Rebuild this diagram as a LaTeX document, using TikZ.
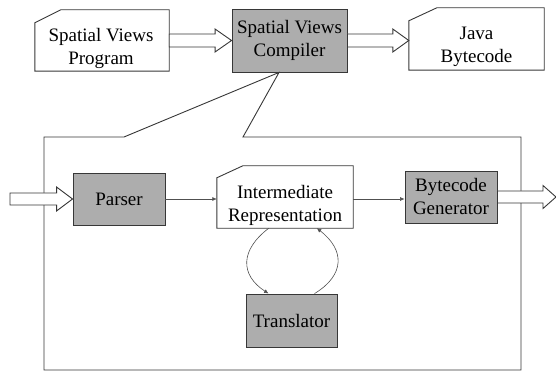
\documentclass[tikz,border=0pt]{standalone}
\usepackage{fontspec}
\setmainfont{Liberation Serif}
\newfontfamily\tnrfont{Liberation Serif}
\usetikzlibrary{arrows.meta,calc}
\definecolor{boxgray}{RGB}{173,173,173}
\definecolor{edgec}{RGB}{55,55,55}
\definecolor{connc}{RGB}{80,80,80}
\begin{document}
\begin{tikzpicture}[x=1pt,y=-1pt,
  txt/.style={font=\tnrfont\fontsize{19}{23}\selectfont, align=center, inner sep=0pt},
  graybox/.style={draw=edgec, fill=boxgray, line width=0.9pt, inner sep=0pt, align=center, font=\tnrfont\fontsize{19}{23}\selectfont},
  cardshape/.style={inner sep=0pt},
  cardline/.style={draw=edgec, fill=white, line width=0.9pt},
  outline/.style={draw=edgec, line width=0.9pt},
  blockarr/.style={draw=edgec, fill=white, line width=0.9pt, line join=miter},
  conn/.style={draw=connc, line width=0.6pt, -{Latex[length=4.5pt,width=4pt]}}
]
\useasboundingbox (0,0) rectangle (556,371);

% top row
\node[cardshape, minimum width=134pt, minimum height=61pt] (prog) at (102,40.5) {};
\node[graybox, minimum width=115pt, minimum height=63pt] (comp) at (289.5,40.5) {Spatial Views\\Compiler};
\node[cardshape, minimum width=135pt, minimum height=62pt] (java) at (476.5,39) {};

% inner nodes
\node[graybox, minimum width=92pt, minimum height=52pt] (parser) at (119,199) {Parser};
\node[cardshape, minimum width=136pt, minimum height=62pt] (ir) at (285,197) {};
\node[graybox, minimum width=92pt, minimum height=52pt] (bytegen) at (451,197) {Bytecode\\Generator};
\node[graybox, minimum width=91pt, minimum height=53pt] (trans) at (291.5,320.5) {Translator};

\coordinate (apex) at ([xshift=-10.5pt]comp.south);
\coordinate (inL) at (10,199);
\coordinate (outR) at (556,197);

% enclosing callout box
\draw[outline] (44,137) -- (124,137) -- (apex) -- (243,137) -- (521,137) -- (521,370) -- (44,370) -- cycle;

% cards
\draw[cardline] (prog.south west) -- ([yshift=-13pt]prog.north west) -- ([xshift=26pt]prog.north west) -- (prog.north east) -- (prog.south east) -- cycle;
\draw[cardline] (java.south west) -- ([yshift=-13pt]java.north west) -- ([xshift=28pt]java.north west) -- (java.north east) -- (java.south east) -- cycle;
\draw[cardline] (ir.south west) -- ([yshift=-12pt]ir.north west) -- ([xshift=26pt]ir.north west) -- (ir.north east) -- (ir.south east) -- cycle;
\node[txt] (progt) at (101,48) {Spatial Views\\Program};
\node[txt] (javat) at (476.5,46.5) {Java\\Bytecode};
\node[txt] (irt) at (285,205) {Intermediate\\Representation};

% block arrows
\draw[blockarr] let \p1=(prog.east), \p2=(comp.west) in
  (\x1,\y1+6.5pt) -- (\x2-16.5pt,\y1+6.5pt) -- (\x2-16.5pt,\y1+11.5pt) -- (\x2,\y1) -- (\x2-16.5pt,\y1-11.5pt) -- (\x2-16.5pt,\y1-6.5pt) -- (\x1,\y1-6.5pt) -- cycle;
\draw[blockarr] let \p1=(comp.east), \p2=(java.west) in
  (\x1,\y1+6.5pt) -- (\x2-16pt,\y1+6.5pt) -- (\x2-16pt,\y1+11.5pt) -- (\x2,\y1) -- (\x2-16pt,\y1-11.5pt) -- (\x2-16pt,\y1-6.5pt) -- (\x1,\y1-6.5pt) -- cycle;
\draw[blockarr] let \p1=(inL), \p2=(parser.west) in
  (\x1,\y1+6pt) -- (\x2-16pt,\y1+6pt) -- (\x2-16pt,\y1+12pt) -- (\x2,\y1) -- (\x2-16pt,\y1-12pt) -- (\x2-16pt,\y1-6pt) -- (\x1,\y1-6pt) -- cycle;
\draw[blockarr] let \p1=(bytegen.east), \p2=(outR) in
  (\x1,\y1+6pt) -- (\x2-13pt,\y1+6pt) -- (\x2-13pt,\y1+11.5pt) -- (\x2,\y1) -- (\x2-13pt,\y1-11.5pt) -- (\x2-13pt,\y1-6pt) -- (\x1,\y1-6pt) -- cycle;

% connectors
\draw[conn] (parser.east) -- (parser.east -| ir.west);
\draw[conn] (parser.east -| ir.east) -- (parser.east -| bytegen.west);
\draw[conn] ([xshift=52pt]ir.south west) .. controls (240,250) and (240,275) .. ([xshift=23pt]trans.north west);
\draw[conn] ([xshift=69pt]trans.north west) .. controls (345,275) and (345,250) .. ([xshift=100pt]ir.south west);
\end{tikzpicture}
\end{document}
